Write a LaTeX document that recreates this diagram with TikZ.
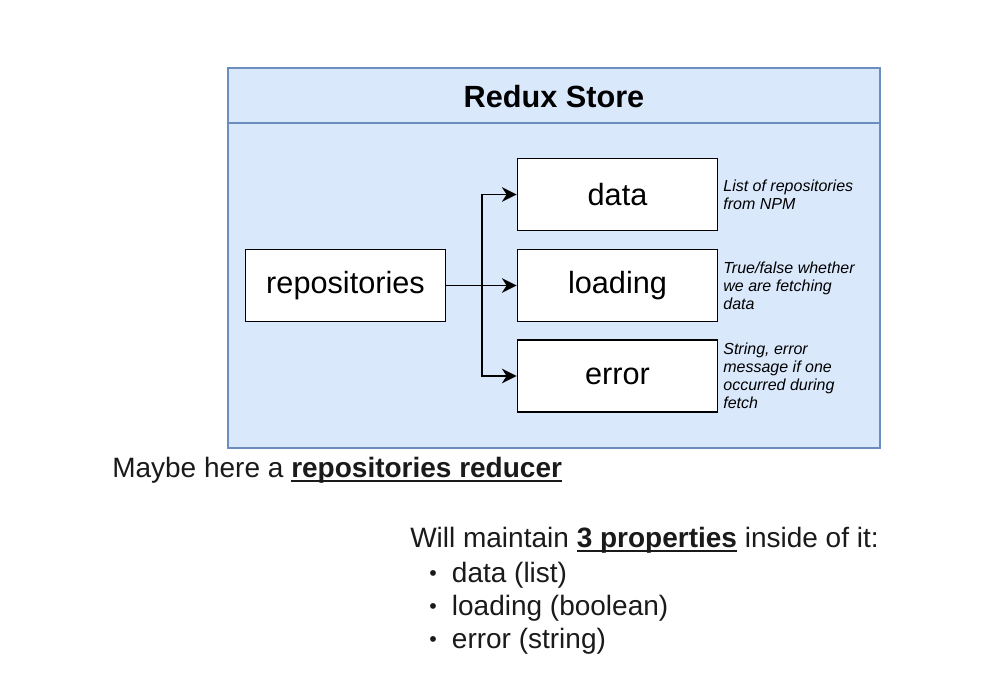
\documentclass[tikz,border=0pt]{standalone}
\usepackage{fontspec}
\setmainfont{Liberation Sans}
\usetikzlibrary{arrows.meta}
\definecolor{storefill}{HTML}{DAE8FC}
\definecolor{storeline}{HTML}{6C8EBF}
\definecolor{txt}{HTML}{1A1A1A}
\newcommand\myul[1]{\setbox0\hbox{#1}\rlap{\rule[-3.8pt]{\wd0}{1.4pt}}\box0\relax}
\newcommand\mybul{\makebox[17pt][l]{\raisebox{1.2pt}{\fontsize{16}{16}\selectfont •}}}
\begin{document}
\begin{tikzpicture}[x=0.75pt,y=-0.75pt,
  store/.style={draw=storeline, fill=storefill, line width=1.1pt, minimum width=489pt, minimum height=285pt, inner sep=0pt},
  field/.style={draw=black, fill=white, line width=1.4pt, minimum width=150pt, minimum height=54pt, inner sep=0pt, font=\fontsize{23}{27}\selectfont},
  arr/.style={line width=1.4pt, -{Stealth[length=11pt,width=11pt,inset=3.5pt]}},
  lbl/.style={anchor=west, align=left, inner sep=0pt, font=\itshape\fontsize{12}{13.5}\selectfont},
  body/.style={anchor=base west, inner sep=0pt, text=txt, font=\fontsize{21}{25}\selectfont}]
\useasboundingbox (0,0) rectangle (1000,700);
\fill[white] (0,0) rectangle (1000,700);
% store
\node[store] (store) at (554,258) {};
\draw[storeline, line width=1.1pt] (228,123) coordinate (hl) -- (880,123) coordinate (hr);
\node[font=\bfseries\fontsize{23}{27}\selectfont, inner sep=0pt] (title) at (554,97) {Redux Store};
% boxes
\node[field] (repo) at (345.5,285.5) {repositories};
\node[field] (data) at (617.5,194.5) {data};
\node[field] (loading) at (617.5,285.5) {loading};
\node[field] (error) at (617.5,376) {error};
% arrows
\draw[arr] (repo.east) -- (loading.west);
\draw[arr] (repo.east) -- ++(35.5,0) coordinate (j) |- (data.west);
\draw[arr] (j) |- (error.west);
% side labels
\node[lbl] (ldata) at ([xshift=3.5pt]data.east) {List of repositories\\from NPM};
\node[lbl] (lload) at ([xshift=3.5pt]loading.east) {True/false whether\\we are fetching\\data};
\node[lbl] (lerr) at ([xshift=3.5pt]error.east) {String, error\\message if one\\occurred during\\fetch};
% bottom text
\node[body] (maybe) at (112,477) {Maybe here a \myul{\textbf{repositories reducer}}};
\node[body] (will) at (410,547) {Will maintain \myul{\textbf{3 properties}} inside of it:};
\node[body] (b1) at (429,582) {\mybul data (list)};
\node[body] (b2) at (429,615) {\mybul loading (boolean)};
\node[body] (b3) at (429,648) {\mybul error (string)};
\end{tikzpicture}
\end{document}
